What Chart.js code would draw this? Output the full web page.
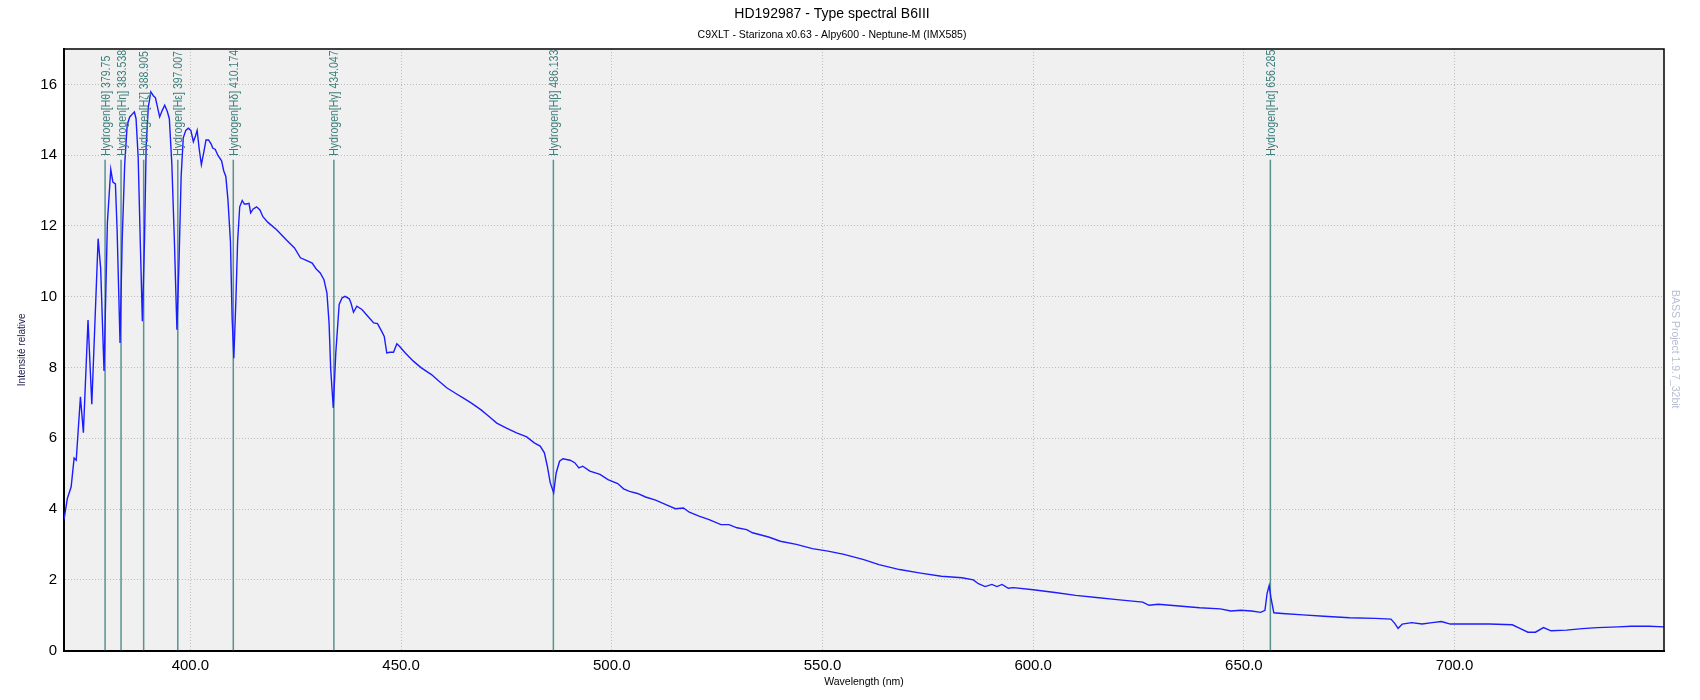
<!DOCTYPE html>
<html>
<head>
<meta charset="utf-8">
<title>HD192987 - Type spectral B6III</title>
<script src="https://cdn.jsdelivr.net/npm/chart.js@4.4.1/dist/chart.umd.min.js"></script>
<style>
  html, body { margin: 0; padding: 0; background: #ffffff; }
  #wrap { width: 1700px; height: 700px; }
</style>
</head>
<body>
<div id="wrap"><canvas id="spectrumChart" width="1700" height="700"></canvas></div>
<script>
console.log("spectrum chart Initializing.");

// Spectrum (wavelength in nm, relative intensity)
const wavelengths = [
  370.0, 370.8, 371.7, 372.4, 372.9, 373.9, 374.6, 375.7, 376.6, 378.1,
  378.7, 379.5, 380.3, 381.1, 381.6, 382.2, 382.6, 383.3, 383.8, 384.4,
  385.0, 385.6, 386.2, 386.7, 387.1, 387.6, 388.1, 388.6, 389.1, 389.5,
  390.0, 390.6, 391.2, 391.7, 392.2, 392.7, 393.3, 393.9, 394.5, 395.0,
  395.6, 396.2, 396.8, 397.3, 397.8, 398.3, 398.9, 399.5, 400.1, 400.7,
  401.2, 401.6, 402.1, 402.6, 403.2, 403.7, 404.3, 404.9, 405.3, 405.9,
  406.5, 407.4, 407.9, 408.4, 408.9, 409.5, 409.9, 410.3, 410.8, 411.2,
  411.7, 412.3, 412.8, 413.3, 413.9, 414.3, 414.9, 415.7, 416.5, 417.2,
  418.4, 420.4, 422.8, 424.7, 426.1, 427.5, 428.9, 429.8, 430.8, 431.7,
  432.4, 432.9, 433.3, 433.9, 434.5, 435.3, 436.0, 436.7, 437.7, 438.1,
  438.7, 439.5, 440.7, 442.1, 443.5, 444.4, 445.4, 446.0, 446.6, 447.3,
  448.2, 449.0, 449.6, 451.0, 452.9, 454.8, 457.2, 459.0, 460.9, 462.8,
  464.7, 466.6, 468.9, 470.8, 472.7, 475.0, 477.4, 479.8, 481.6, 483.0,
  484.0, 484.7, 485.4, 486.2, 486.8, 487.6, 488.4, 490.1, 491.2, 492.2,
  493.1, 494.8, 497.2, 499.1, 501.4, 502.8, 504.2, 506.1, 508.0, 510.4,
  512.7, 515.1, 517.0, 518.4, 520.7, 523.1, 525.9, 527.8, 529.7, 532.0,
  533.4, 537.2, 540.0, 543.8, 547.6, 551.3, 555.1, 559.8, 563.4, 568.3,
  573.3, 578.2, 583.1, 585.8, 587.0, 588.6, 590.2, 591.4, 592.6, 594.1,
  595.3, 600.0, 605.2, 610.1, 615.0, 619.9, 626.0, 627.5, 629.7, 634.6,
  639.5, 644.4, 646.9, 649.3, 651.8, 654.0, 655.0, 655.5, 656.0, 656.4,
  657.1, 659.1, 664.0, 669.0, 675.1, 681.2, 684.9, 685.8, 686.6, 687.6,
  689.8, 692.3, 694.7, 696.9, 699.0, 703.3, 708.2, 713.7, 715.5, 717.4,
  719.2, 721.1, 722.9, 726.6, 730.3, 733.9, 738.8, 741.9, 746.2, 749.7
];

const intensities = [
  3.70, 4.30, 4.63, 5.44, 5.38, 7.17, 6.16, 9.34, 6.96, 11.64,
  10.80, 7.90, 12.10, 13.60, 13.24, 13.19, 11.90, 8.69, 11.56, 13.73,
  14.86, 15.08, 15.16, 15.22, 15.03, 13.94, 11.56, 9.31, 11.56, 14.27,
  15.35, 15.79, 15.68, 15.62, 15.35, 15.08, 15.26, 15.41, 15.24, 15.03,
  13.73, 11.56, 9.07, 11.02, 13.40, 14.49, 14.70, 14.76, 14.70, 14.38,
  14.54, 14.70, 14.16, 13.73, 14.10, 14.43, 14.43, 14.32, 14.20, 14.16,
  14.00, 13.84, 13.56, 13.40, 12.75, 11.56, 9.39, 8.26, 9.93, 11.56,
  12.54, 12.72, 12.62, 12.62, 12.64, 12.37, 12.48, 12.54, 12.45, 12.26,
  12.10, 11.90, 11.60, 11.38, 11.10, 11.03, 10.95, 10.79, 10.67, 10.48,
  10.10, 9.26, 7.94, 6.86, 8.41, 9.78, 9.97, 10.01, 9.94, 9.82,
  9.56, 9.73, 9.64, 9.45, 9.26, 9.24, 9.02, 8.88, 8.41, 8.43,
  8.43, 8.67, 8.60, 8.41, 8.18, 7.99, 7.80, 7.61, 7.42, 7.28,
  7.14, 7.00, 6.81, 6.62, 6.43, 6.29, 6.15, 6.04, 5.87, 5.78,
  5.59, 5.21, 4.74, 4.46, 5.02, 5.35, 5.42, 5.38, 5.31, 5.16,
  5.21, 5.07, 4.98, 4.83, 4.72, 4.57, 4.50, 4.44, 4.34, 4.25,
  4.13, 4.01, 4.03, 3.91, 3.80, 3.70, 3.56, 3.56, 3.47, 3.42,
  3.33, 3.21, 3.09, 3.00, 2.88, 2.81, 2.72, 2.57, 2.43, 2.29,
  2.19, 2.10, 2.06, 2.00, 1.89, 1.81, 1.87, 1.81, 1.87, 1.76,
  1.78, 1.72, 1.64, 1.56, 1.50, 1.44, 1.37, 1.28, 1.31, 1.26,
  1.21, 1.18, 1.12, 1.14, 1.12, 1.08, 1.14, 1.61, 1.84, 1.51,
  1.07, 1.05, 1.01, 0.97, 0.93, 0.91, 0.89, 0.77, 0.63, 0.75,
  0.79, 0.75, 0.79, 0.82, 0.75, 0.75, 0.75, 0.73, 0.63, 0.52,
  0.52, 0.65, 0.56, 0.58, 0.62, 0.65, 0.67, 0.69, 0.69, 0.67
];

// Hydrogen lines marked on the spectrum
const lineWavelengths = [379.75, 383.538, 388.905, 397.007, 410.174, 434.047, 486.133, 656.285];
const lineNames = [
  'Hydrogen[Hθ] 379.75',
  'Hydrogen[Hη] 383.538',
  'Hydrogen[Hζ] 388.905',
  'Hydrogen[Hε] 397.007',
  'Hydrogen[Hδ] 410.174',
  'Hydrogen[Hγ] 434.047',
  'Hydrogen[Hβ] 486.133',
  'Hydrogen[Hα] 656.285'
];
const lineTop = 13.87;

const chartTitle = 'HD192987 - Type spectral B6III';
const chartSubtitle = 'C9XLT - Starizona x0.63 - Alpy600 - Neptune-M (IMX585)';
const xTitle = 'Wavelength (nm)';
const yTitle = 'Intensité relative';
const watermark = 'BASS Project 1.9.7_32bit';


function buildSpectrumData() {
    const points = wavelengths.map((w, i) => ({ x: w, y: intensities[i] }));
    const datasets = [{
        label: 'spectrum',
        data: points,
        borderColor: '#1c1cff',
        borderWidth: 1.4,
        pointRadius: 0,
        tension: 0
    }];
    lineWavelengths.forEach(w => {
        datasets.push({
            label: 'line ' + w,
            data: [{ x: w, y: 0 }, { x: w, y: lineTop }],
            borderColor: '#5a9290',
            borderWidth: 1.5,
            pointRadius: 0
        });
    });
    return { datasets: datasets };
}


// Grey plot background + frame
const plotFrame = {
    id: 'plotFrame',
    beforeDraw(chart) {
        const { ctx, chartArea } = chart;
        ctx.save();
        ctx.fillStyle = '#f0f0f0';
        ctx.fillRect(chartArea.left, chartArea.top, chartArea.width, chartArea.height);
        ctx.restore();
    },
    afterDraw(chart) {
        const { ctx, chartArea } = chart;
        ctx.save();
        ctx.strokeStyle = '#000';
        ctx.lineWidth = 1.5;
        ctx.beginPath();
        ctx.moveTo(chartArea.left, chartArea.top);
        ctx.lineTo(chartArea.right, chartArea.top);
        ctx.lineTo(chartArea.right, chartArea.bottom);
        ctx.stroke();
        // watermark on the right side
        ctx.fillStyle = '#b7bdd3';
        ctx.font = '10.5px "Liberation Sans", Arial, sans-serif';
        ctx.textBaseline = 'middle';
        ctx.translate(chartArea.right + 11, 290);
        ctx.rotate(Math.PI / 2);
        ctx.fillText(watermark, 0, 0);
        ctx.restore();
    }
};

// Rotated labels above the hydrogen lines (narrow text, squeezed a bit)
const lineLabels = {
    id: 'lineLabels',
    afterDatasetsDraw(chart) {
        const { ctx, chartArea } = chart;
        const x = chart.scales.x, y = chart.scales.y;
        ctx.save();
        ctx.beginPath();
        ctx.rect(chartArea.left, chartArea.top, chartArea.width, chartArea.height);
        ctx.clip();
        ctx.fillStyle = '#3d7f7c';
        ctx.font = '12.5px "Liberation Sans", Arial, sans-serif';
        ctx.textBaseline = 'middle';
        ctx.textAlign = 'left';
        const squeeze = 100 / ctx.measureText(lineNames[0]).width;
        lineWavelengths.forEach((w, i) => {
            ctx.save();
            ctx.translate(x.getPixelForValue(w) + 1, y.getPixelForValue(lineTop) - 4);
            ctx.rotate(-Math.PI / 2);
            ctx.scale(squeeze, 1);
            ctx.fillText(lineNames[i], 0, 0);
            ctx.restore();
        });
        ctx.restore();
    }
};


function createSpectrumChart(elementId, chartData) {
    Chart.defaults.font.family = '"Liberation Sans", Arial, sans-serif';
    Chart.defaults.color = '#000';

    var ctx = document.getElementById(elementId).getContext('2d');
    var myChart = new Chart(ctx, {
        type: 'line',
        data: chartData,
        plugins: [plotFrame, lineLabels],
        options: {
            responsive: false,
            animation: false,
            devicePixelRatio: 1,
            layout: { padding: { left: 0, right: 36, top: 0, bottom: 0 } },
            plugins: {
                legend: { display: false },
                tooltip: { enabled: false },
                title: {
                    display: true,
                    text: chartTitle,
                    color: '#000',
                    font: { size: 14, weight: 'normal' },
                    padding: { top: 6, bottom: 6 }
                },
                subtitle: {
                    display: true,
                    text: chartSubtitle,
                    color: '#000',
                    font: { size: 10.5 },
                    padding: { top: 0, bottom: 7.6 }
                }
            },
            scales: {
                x: {
                    type: 'linear',
                    min: 370,
                    max: 749.7,
                    afterFit: scale => { scale.height = 49.4; },
                    ticks: {
                        stepSize: 50,
                        includeBounds: false,
                        padding: 6,
                        font: { size: 15 },
                        maxRotation: 0,
                        callback: v => v.toFixed(1)
                    },
                    grid: { color: '#bdbdbd', drawTicks: false },
                    border: { display: true, color: '#000', width: 2, dash: [1, 2] },
                    title: {
                        display: true,
                        text: xTitle,
                        font: { size: 10.5 },
                        padding: { top: 0, bottom: 11.7 }
                    }
                },
                y: {
                    min: 0,
                    max: 17,
                    afterFit: scale => { scale.width = 64; },
                    ticks: {
                        stepSize: 2,
                        includeBounds: false,
                        padding: 7,
                        font: { size: 15 }
                    },
                    grid: { color: '#bdbdbd', drawTicks: false },
                    border: { display: true, color: '#000', width: 2, dash: [1, 2] },
                    title: {
                        display: true,
                        text: yTitle,
                        color: '#1a1a4a',
                        font: { size: 10 },
                        padding: { top: 16, bottom: 0 }
                    }
                }
            }
        }
    });
    return myChart;
}

createSpectrumChart('spectrumChart', buildSpectrumData());

console.log("spectrum chart Loaded.");
</script>
</body>
</html>
